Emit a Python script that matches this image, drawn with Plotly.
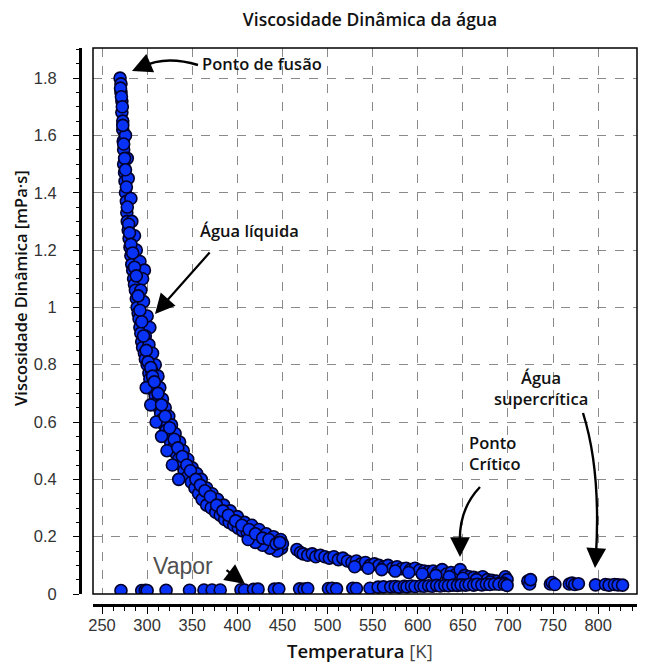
import plotly.graph_objects as go

# ---------------- data ----------------
liquid_T = [270, 271, 271, 272, 272, 273, 273, 273.5, 274, 274, 275, 275.5, 276, 277, 277.5,
            278, 279, 280, 281, 282, 283, 284, 285, 286, 287, 288, 289, 290, 291, 292, 293,
            294, 295, 297, 298, 300, 302, 303, 305, 307, 309, 311, 313, 315, 317, 319, 321,
            323, 326, 329, 332, 335, 338, 341, 345, 349, 353, 357, 361, 366, 371, 376, 381,
            386, 391, 396, 401, 406, 411, 416, 421, 426, 431, 436, 441, 446, 449,
            276, 278, 279, 282, 283, 286, 288, 292, 297, 295, 293, 296, 300, 303, 298, 302,
            306, 309, 305, 312, 314, 317, 320, 324, 327, 331, 336, 340, 345, 350, 355, 360,
            366, 372, 378, 385, 392, 400, 408, 416, 424, 432, 440, 448, 450, 444, 436, 428,
            420, 412, 335, 328, 322, 316, 310, 304, 299,
            270.5, 271.5, 272.5, 273, 274, 275, 276, 277, 278, 279.5, 280.5, 282, 284, 286,
            288, 290, 292, 294, 296, 299, 301, 304, 306, 308, 312, 316, 320, 325, 330, 334,
            339, 344, 348, 354, 359, 364, 370, 377, 384, 390, 398, 405, 413, 420, 428, 435,
            443, 447]
liquid_v = [1.80, 1.78, 1.75, 1.72, 1.68, 1.65, 1.62, 1.58, 1.55, 1.50, 1.47, 1.44, 1.40, 1.37, 1.33,
            1.30, 1.27, 1.24, 1.21, 1.18, 1.15, 1.13, 1.10, 1.08, 1.06, 1.03, 1.00, 0.98, 0.96, 0.93, 0.91,
            0.88, 0.86, 0.84, 0.82, 0.80, 0.77, 0.75, 0.73, 0.71, 0.69, 0.67, 0.65, 0.63, 0.61, 0.59, 0.57,
            0.55, 0.53, 0.51, 0.49, 0.47, 0.45, 0.43, 0.41, 0.39, 0.37, 0.35, 0.33, 0.31, 0.30, 0.285, 0.275,
            0.26, 0.25, 0.24, 0.23, 0.22, 0.215, 0.205, 0.20, 0.19, 0.185, 0.18, 0.17, 0.165, 0.16,
            1.60, 1.52, 1.45, 1.38, 1.30, 1.25, 1.20, 1.16, 1.13, 1.10, 1.06, 1.02, 0.97, 0.93, 0.90, 0.87,
            0.84, 0.80, 0.78, 0.76, 0.72, 0.68, 0.65, 0.62, 0.59, 0.56, 0.53, 0.50, 0.47, 0.44, 0.42, 0.40,
            0.37, 0.35, 0.33, 0.31, 0.29, 0.27, 0.25, 0.24, 0.225, 0.21, 0.20, 0.19, 0.175, 0.15, 0.16, 0.17,
            0.18, 0.19, 0.40, 0.45, 0.50, 0.55, 0.60, 0.66, 0.72,
            1.765, 1.735, 1.70, 1.635, 1.57, 1.52, 1.48, 1.42, 1.35, 1.29, 1.26, 1.22, 1.19, 1.14,
            1.11, 1.04, 0.99, 0.95, 0.90, 0.85, 0.81, 0.79, 0.76, 0.74, 0.70, 0.66, 0.62, 0.58, 0.54,
            0.51, 0.48, 0.45, 0.43, 0.40, 0.38, 0.36, 0.34, 0.31, 0.29, 0.275, 0.255, 0.24, 0.225,
            0.21, 0.195, 0.19, 0.175, 0.18]

hot_T = [466, 470, 473, 478, 483, 487, 492, 497, 502, 507, 512, 517, 522, 527, 532, 537, 542,
         547, 552, 557, 562, 567, 572, 577, 582, 587, 592, 597, 602, 607, 612, 617, 622, 627,
         632, 637, 642, 647, 652, 657, 662, 667, 672, 677, 682, 687, 692, 697, 699,
         530, 545, 560, 575, 590, 605, 620, 635, 650, 665, 680, 695]
hot_v = [0.155, 0.145, 0.14, 0.135, 0.14, 0.13, 0.135, 0.13, 0.125, 0.13, 0.12, 0.125, 0.115,
         0.11, 0.115, 0.105, 0.11, 0.10, 0.105, 0.10, 0.095, 0.10, 0.09, 0.095, 0.088, 0.09,
         0.085, 0.09, 0.083, 0.08, 0.078, 0.08, 0.075, 0.085, 0.07, 0.075, 0.068, 0.085, 0.065,
         0.06, 0.058, 0.055, 0.06, 0.05, 0.048, 0.045, 0.04, 0.06, 0.05,
         0.095, 0.09, 0.085, 0.08, 0.075, 0.07, 0.065, 0.06, 0.055, 0.05, 0.042, 0.038]

vapor_T = [271, 294, 298, 300, 321, 347, 363, 372, 381, 404, 408, 418, 423, 441, 446, 469, 474,
           478, 501, 505, 510, 528, 532, 547, 556, 562, 570, 575, 579, 585, 588, 593, 597, 603,
           607, 612, 616, 621, 625, 630, 634, 639, 644, 648, 653, 657, 662, 666, 671, 676, 680,
           685, 690, 696, 699]
vapor_v = [0.012, 0.012, 0.013, 0.012, 0.013, 0.013, 0.014, 0.014, 0.014, 0.015, 0.014, 0.016,
           0.017, 0.017, 0.018, 0.018, 0.017, 0.019, 0.019, 0.020, 0.018, 0.020, 0.019, 0.020,
           0.024, 0.025, 0.025, 0.026, 0.024, 0.027, 0.025, 0.028, 0.026, 0.028, 0.027, 0.029,
           0.027, 0.030, 0.028, 0.030, 0.029, 0.031, 0.030, 0.032, 0.031, 0.033, 0.031, 0.034,
           0.032, 0.034, 0.033, 0.035, 0.034, 0.033, 0.030]

super_T = [722, 724, 725, 747, 749, 752, 768, 771, 774, 778, 797, 808, 812, 818, 822, 827]
super_v = [0.045, 0.035, 0.050, 0.035, 0.040, 0.033, 0.035, 0.038, 0.033, 0.036, 0.032,
           0.033, 0.031, 0.033, 0.032, 0.031]

x_ticks = [250, 300, 350, 400, 450, 500, 550, 600, 650, 700, 750, 800]
y_ticks = [0, 0.2, 0.4, 0.6, 0.8, 1, 1.2, 1.4, 1.6, 1.8]

# ---------------- layout geometry ----------------
W, H = 655, 664
XR = [240, 843]
YR = [0, 1.905]
L, R, T, B = 93, 637, 48, 594  # plot frame in pixels


def px2x(p):
    return XR[0] + (p - L) * (XR[1] - XR[0]) / (R - L)


def px2y(p):
    return YR[0] + (B - p) * (YR[1] - YR[0]) / (B - T)


fig = go.Figure()
marker = dict(size=12, color="#0832f5", line=dict(color="#00002a", width=1.6))
for xs, ys in [(liquid_T, liquid_v), (hot_T, hot_v), (vapor_T, vapor_v), (super_T, super_v)]:
    fig.add_trace(go.Scatter(x=xs, y=ys, mode="markers", marker=marker,
                             showlegend=False, hoverinfo="x+y"))

tickfont = dict(family="Liberation Sans, Arial", size=16.5, color="#333333")
bold = "Open Sans"
fig.update_layout(
    width=W, height=H,
    margin=dict(l=0, r=0, t=0, b=0),
    paper_bgcolor="white", plot_bgcolor="white",
    xaxis=dict(domain=[L / W, R / W], range=XR, anchor="free", position=1 - 605 / H,
               showline=True, linewidth=3, linecolor="black",
               tickmode="array", tickvals=x_ticks, ticks="outside", ticklen=7, tickwidth=1.3,
               tickcolor="black", tickfont=tickfont, ticklabelstandoff=-3,
               minor=dict(dtick=12.5, tick0=250, ticks="outside", ticklen=4, tickwidth=1,
                          tickcolor="black", showgrid=False),
               showgrid=True, gridcolor="#8a8a8a", gridwidth=1, griddash="dash",
               zeroline=False, automargin=False),
    yaxis=dict(domain=[1 - B / H, 1 - T / H], range=YR, anchor="free", position=80 / W,
               showline=True, linewidth=3, linecolor="black",
               tickmode="array", tickvals=y_ticks, ticks="outside", ticklen=6, tickwidth=1.3,
               tickcolor="black", tickfont=tickfont, ticklabelstandoff=13,
               minor=dict(dtick=0.05, tick0=0, ticks="outside", ticklen=3, tickwidth=1,
                          tickcolor="black", showgrid=False),
               showgrid=True, gridcolor="#8a8a8a", gridwidth=1, griddash="dash",
               zeroline=False, automargin=False),
    title=dict(text="Viscosidade Dinâmica da água", x=370 / W, xanchor="center",
               y=1 - 20 / H, yanchor="middle", yref="container",
               font=dict(family=bold, size=17.5, color="#111111", weight=600)),
)

# plot frame
fig.add_shape(type="rect", xref="x domain", yref="y domain", x0=0, x1=1, y0=0, y1=1,
              line=dict(color="black", width=1.5), layer="above")

# axis titles
fig.add_annotation(text="Viscosidade Dinâmica [mPa·s]", xref="paper", yref="paper",
                   x=20 / W, y=1 - 288 / H, textangle=-90, showarrow=False,
                   xanchor="center", yanchor="middle",
                   font=dict(family=bold, size=16.5, color="#111111", weight=600))
fig.add_annotation(text="Temperatura <span style='color:#444;font-weight:400'>[K]</span>",
                   xref="paper", yref="paper",
                   x=360 / W, y=1 - 650 / H, showarrow=False, xanchor="center", yanchor="middle",
                   borderpad=0,
                   font=dict(family=bold, size=18.5, color="#111111", weight=600))

lab = dict(family=bold, size=16.5, color="#111111", weight=600)
fig.add_annotation(text="Ponto de fusão", x=px2x(262), y=px2y(63), showarrow=False,
                   font=dict(family=bold, size=16.5, color="#111111", weight=600))
fig.add_annotation(text="Água líquida", x=px2x(249), y=px2y(230), showarrow=False, font=lab)
fig.add_annotation(text="Ponto<br>Crítico", x=px2x(467), y=px2y(453), showarrow=False,
                   xanchor="left", align="left", font=lab)
fig.add_annotation(text="Água<br>supercrítica", x=px2x(541), y=px2y(388), showarrow=False,
                   xanchor="center", align="center", font=lab)
fig.add_annotation(text="Vapor", x=px2x(183), y=px2y(566), showarrow=False,
                   font=dict(family="Liberation Sans, Arial", size=23, color="#505050"))


def curve(p0, c, p1):
    return (f"M {px2x(p0[0])},{px2y(p0[1])} Q {px2x(c[0])},{px2y(c[1])} "
            f"{px2x(p1[0])},{px2y(p1[1])}")


def head(tip, frm):
    fig.add_annotation(x=px2x(tip[0]), y=px2y(tip[1]), ax=frm[0] - tip[0], ay=frm[1] - tip[1],
                       text="", showarrow=True, arrowhead=2, arrowsize=1.8, arrowwidth=2.2,
                       arrowcolor="black", standoff=0)


# curved arrow bodies
for p0, c, p1 in [((198, 65), (165, 55), (142, 67)),
                  ((480, 487), (458, 510), (460, 545)),
                  ((583, 413), (601, 470), (596, 555))]:
    fig.add_shape(type="path", xref="x", yref="y", path=curve(p0, c, p1),
                  line=dict(color="black", width=2.4))

head((132, 71), (146, 65))
head((155, 314), (211, 251))
head((460, 557), (460, 541))
head((595, 568), (596, 552))
head((245, 584), (225, 569))

fig.write_html("out.html", config={"displayModeBar": False},
               post_script="document.body.style.margin='0';")
